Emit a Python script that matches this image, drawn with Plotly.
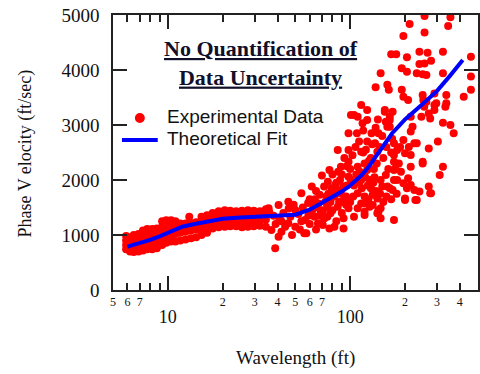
import math
import plotly.graph_objects as go

# ---- measured phase velocity (wavelength ft, velocity ft/s) ----
short_band = [
    (5.9, 740), (5.9, 820), (5.9, 900), (5.9, 980),
    (6.2, 700), (6.2, 790), (6.2, 870), (6.2, 960),
    (6.5, 690), (6.5, 760), (6.5, 850), (6.5, 930), (6.5, 1000),
    (6.9, 700), (6.9, 780), (6.9, 870), (6.9, 950), (6.9, 1020),
    (7.3, 720), (7.3, 810), (7.3, 900), (7.3, 990), (7.3, 1080),
    (7.7, 740), (7.7, 840), (7.7, 940), (7.7, 1030), (7.7, 1110),
    (8.2, 740), (8.2, 850), (8.2, 960), (8.2, 1050), (8.2, 1110),
    (8.7, 760), (8.7, 880), (8.7, 990), (8.7, 1080), (8.7, 1120),
    (9.3, 820), (9.3, 940), (9.3, 1040), (9.3, 1150), (9.3, 1250),
    (9.8, 860), (9.8, 980), (9.8, 1080), (9.8, 1180), (9.8, 1270),
    (10.4, 880), (10.4, 1000), (10.4, 1110), (10.4, 1220), (10.4, 1270),
    (11.0, 880), (11.0, 1020), (11.0, 1140), (11.0, 1250),
    (11.7, 900), (11.7, 1040), (11.7, 1150), (11.7, 1210),
    (12.5, 920), (12.5, 1060), (12.5, 1170), (12.5, 1210),
    (13.1, 1333),
    (13.4, 940), (13.4, 1080), (13.4, 1180), (13.4, 1220),
    (14.3, 960), (14.3, 1100), (14.3, 1190), (14.3, 1230),
    (15.3, 1000), (15.3, 1120), (15.3, 1240), (15.3, 1330),
    (16.4, 1040), (16.4, 1150), (16.4, 1270), (16.4, 1360),
    (17.6, 1120), (17.6, 1220), (17.6, 1320), (17.6, 1400),
    (19.0, 1140), (19.0, 1240), (19.0, 1340), (19.0, 1430),
    (20.5, 1150), (20.5, 1250), (20.5, 1350), (20.5, 1450),
    (22.0, 1160), (22.0, 1260), (22.0, 1360), (22.0, 1440),
    (23.7, 1160), (23.7, 1270), (23.7, 1370), (23.7, 1430),
    (25.5, 1140), (25.5, 1250), (25.5, 1360), (25.5, 1440),
    (27.5, 1150), (27.5, 1240), (27.5, 1340), (27.5, 1450),
    (29.6, 1160), (29.6, 1260), (29.6, 1380), (29.6, 1440),
    (32.0, 1170), (32.0, 1250), (32.0, 1350), (32.0, 1430),
    (34.5, 1150), (34.5, 1280), (34.5, 1400), (34.5, 1470),
]

mid_band = [
    (37, 1090), (38.8, 760), (40.5, 970), (42, 1060), (40.5, 1545), (35.7, 1485),
    (39, 1200), (41, 1300), (43, 1400), (44, 1150), (45.8, 1215), (45.8, 1605),
    (47, 1330), (48, 1000), (50, 1150), (50, 1455), (52, 1380), (54, 1760),
    (54, 1250), (56.5, 1273), (57.5, 1030), (58.8, 1580), (56, 1030), (42, 1250),
    (38, 1350), (36, 1420), (46, 1480), (49, 1550), (53, 1100), (55, 1500),
    (59, 1350), (60, 1200),
    (61.6, 1880), (63.8, 1333), (66.6, 1210), (67, 1575), (68, 1730), (70, 1210),
    (70.8, 1180), (72, 1880), (75, 1515), (75, 1333), (75.5, 1970), (77, 1120),
    (77, 2180), (78, 1395), (82, 1150), (82, 1700), (83, 1910), (85.5, 1818),
    (85.5, 1515), (85.5, 2545), (89, 2240), (92, 1880), (92, 1305), (92, 1120),
    (93, 1665), (98, 1485), (98, 2060), (98, 2330), (98, 2545), (98, 2850),
    (62, 1450), (64, 1650), (65, 1100), (69, 1400), (72, 1300), (74, 1700),
    (78, 1600), (80, 1450), (80, 1800), (84, 1250), (87, 1600), (88, 2000),
    (90, 1400), (95, 1700), (95, 1550), (96, 1900), (70, 2080), (80, 2100),
    (65, 1800), (60, 1650),
    (90, 2100), (93, 2400), (86, 2150), (84, 1950), (79, 1850), (76, 1750),
    (73, 1600), (71, 1450), (68, 1350), (66, 1500), (63, 1550), (89, 1750),
    (91, 1600), (96, 2250),
]

long_band = [
    (101, 3180), (105, 3180), (105, 1333), (109, 2850), (110, 3150), (110, 2240),
    (110, 1760), (110, 1485), (115, 2515), (115, 2000), (115, 1575), (115, 3365),
    (117, 3030), (120, 2300), (120, 1700), (120, 1365), (120, 1575), (120, 1425),
    (124, 3090), (124, 2700), (124, 2180), (124, 3275), (128, 1515), (131, 2850),
    (133, 1730), (133, 1545), (137, 2670), (138, 3685), (141, 2515), (141, 1665),
    (141, 1395), (143, 2850), (143, 1455), (143, 1425), (147, 1305), (147, 1485),
    (147, 2000), (147, 3940), (105, 1900), (108, 2100), (112, 1950), (118, 2500),
    (125, 1900), (128, 2000), (130, 2400), (135, 2200), (140, 2300), (100, 1600),
    (104, 1700), (130, 1850), (136, 2050), (145, 2600),
    (100, 2200), (103, 2450), (107, 2600), (112, 2700), (118, 2900), (122, 2550),
    (127, 2350), (132, 2650), (138, 2950), (142, 3100), (150, 2800), (152, 2400),
    (158, 2600), (162, 2200), (168, 2500), (170, 2750), (185, 2300), (188, 2600),
    (190, 2150), (210, 2600), (101, 2000), (113, 2150), (116, 1850), (121, 2050),
    (126, 1650), (134, 1950), (139, 1800), (146, 1750), (152, 1600), (158, 1700),
    (168, 1650), (180, 1750),
    (150, 1880), (155, 3240), (155, 3275), (157, 2090), (157, 3060), (160, 2970),
    (160, 1880), (160, 3730), (163, 3640), (165, 3150), (165, 3090), (165, 2970),
    (165, 1850), (168, 4285), (171, 3240), (171, 1820), (174, 2670), (174, 2455),
    (174, 2330), (174, 2180), (174, 2000), (174, 1273), (177, 2210), (179, 4285),
    (181, 2545), (181, 2000), (192, 4030), (192, 3640), (196, 4620), (196, 3515),
    (196, 2727), (196, 1940), (200, 2485), (200, 1665), (200, 1636), (205, 3970),
    (205, 4230), (205, 1850), (208, 3455), (208, 2030), (212, 4836), (215, 3150),
    (215, 2880), (215, 2455), (215, 2240), (215, 1910), (220, 2970),
    (225, 2670), (225, 1818), (228, 1636), (232, 3940), (232, 2670), (232, 1636),
    (240, 4330), (240, 4110), (240, 1790), (246, 3150), (250, 3925), (250, 3545),
    (250, 2330), (250, 2300), (252, 3455), (255, 3330), (256, 4980), (256, 4680),
    (256, 4120), (262, 3910), (262, 3425), (266, 4315), (270, 3210), (270, 2575),
    (270, 1880), (275, 3120), (275, 1760), (278, 4170), (278, 1760), (290, 3575),
    (290, 3365), (290, 3275), (297, 3395), (303, 2700), (310, 2090), (323, 4330),
    (323, 3940), (323, 3040), (323, 2240), (333, 3330), (337, 3545), (337, 3395),
    (345, 4800), (355, 4960), (355, 3000), (370, 2850), (420, 3515), (460, 4240),
    (460, 3880), (460, 3640),
]

# ---- theoretical dispersion curve ----
fit_wavelength = [6, 7, 8, 9, 10, 12, 14, 17, 20, 25, 30, 35, 40, 50, 60, 70, 80,
                  90, 100, 115, 125, 140, 155, 170, 185, 200, 250, 300, 350, 415]
fit_velocity = [790, 850, 910, 975, 1040, 1150, 1200, 1260, 1295, 1320, 1330, 1335,
                1340, 1370, 1460, 1580, 1690, 1790, 1900, 2080, 2220, 2450, 2680,
                2850, 2980, 3100, 3380, 3620, 3880, 4180]

# ---- axis ticks ----
major_x = [10, 100]
major_x_text = ["10", "100"]
minor_x = [5, 6, 7, 8, 9, 20, 30, 40, 50, 60, 70, 80, 90, 200, 300, 400, 500]
minor_x_text = ["5", "6", "7", "", "", "2", "3", "4", "5", "6", "7", "", "",
                "2", "3", "4", "5"]
y_ticks = [0, 1000, 2000, 3000, 4000, 5000]

points = short_band + mid_band + long_band
meas_x = [p[0] for p in points]
meas_y = [p[1] for p in points]

SERIF = "Liberation Serif, Times New Roman, serif"
SANS = "Liberation Sans, Arial, sans-serif"
AX = "#222222"
TXT = "#111111"
x_range = [math.log10(5), math.log10(503)]

fig = go.Figure()
fig.add_trace(go.Scatter(
    x=meas_x, y=meas_y, mode="markers", name="Experimental Data",
    marker=dict(color="#ff0000", size=8, line=dict(width=0)),
    showlegend=False,
))
# fit drawn on the overlaid axis that carries the minor decade ticks
fig.add_trace(go.Scatter(
    x=fit_wavelength, y=fit_velocity, mode="lines", name="Theoretical Fit",
    line=dict(color="#0000ff", width=4), xaxis="x2", yaxis="y",
    showlegend=False,
))

# legend key (symbols in paper pixels, text as annotations)
def px_x(p):
    return (p - 113) / 367

def px_y(p):
    return (290 - p) / 275

shapes = [
    dict(type="circle", xref="paper", yref="paper",
         x0=px_x(135), x1=px_x(145), y0=px_y(113), y1=px_y(123),
         fillcolor="#ff0000", line=dict(width=0)),
    dict(type="line", xref="paper", yref="paper",
         x0=px_x(122), x1=px_x(158), y0=px_y(140), y1=px_y(140),
         line=dict(color="#0000ff", width=4)),
]

fig.update_layout(
    width=480, height=374,
    margin=dict(l=113, r=0, t=15, b=84),
    paper_bgcolor="white", plot_bgcolor="white",
    showlegend=False,
    shapes=shapes,
    xaxis=dict(
        type="log", range=x_range, tickmode="array",
        tickvals=major_x, ticktext=major_x_text,
        ticks="inside", ticklen=14, tickwidth=1.5, tickcolor=AX,
        showline=True, linecolor=AX, linewidth=1.5, mirror="ticks",
        showgrid=False, zeroline=False,
        tickfont=dict(family=SERIF, size=18, color=TXT),
        ticklabelstandoff=10,
    ),
    xaxis2=dict(
        type="log", range=x_range, overlaying="x", anchor="y", side="bottom",
        tickmode="array", tickvals=minor_x, ticktext=minor_x_text,
        ticks="inside", ticklen=7, tickwidth=1.5, tickcolor=AX,
        showline=True, linecolor=AX, linewidth=1.5, mirror="ticks",
        showgrid=False, zeroline=False,
        tickfont=dict(family=SERIF, size=12, color=TXT),
        ticklabelstandoff=0,
    ),
    yaxis=dict(
        range=[0, 5000], tickmode="array", tickvals=y_ticks,
        ticks="inside", ticklen=14, tickwidth=1.5, tickcolor=AX,
        showline=True, linecolor=AX, linewidth=1.5, mirror="ticks",
        showgrid=False, zeroline=False,
        tickfont=dict(family=SERIF, size=19, color=TXT),
        ticklabelstandoff=8,
    ),
    annotations=[
        dict(text="<b><u>No Quantification of</u></b><br><b><u>Data Uncertainty</u></b>",
             xref="paper", yref="paper", x=px_x(262), y=px_y(63),
             xanchor="center", yanchor="middle", showarrow=False, align="center",
             font=dict(family=SERIF, size=22, color="#10102a")),
        dict(text="Experimental Data", xref="paper", yref="paper",
             x=px_x(165), y=px_y(117), xanchor="left", yanchor="middle",
             showarrow=False, font=dict(family=SANS, size=19, color=TXT)),
        dict(text="Theoretical Fit", xref="paper", yref="paper",
             x=px_x(165), y=px_y(138), xanchor="left", yanchor="middle",
             showarrow=False, font=dict(family=SANS, size=19, color=TXT)),
        dict(text="Phase V elocity (ft/sec)", textangle=-90,
             xref="paper", yref="paper", x=px_x(25), y=px_y(153),
             xanchor="center", yanchor="middle", showarrow=False,
             font=dict(family=SERIF, size=18, color=TXT)),
        dict(text="Wavelength (ft)",
             xref="paper", yref="paper", x=px_x(296), y=px_y(358),
             xanchor="center", yanchor="middle", showarrow=False,
             font=dict(family=SERIF, size=19, color=TXT)),
    ],
)

fig.write_html("out.html")
